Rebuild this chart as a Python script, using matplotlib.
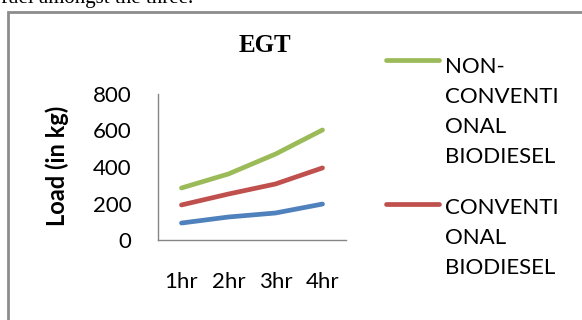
import matplotlib
matplotlib.use("Agg")
import matplotlib.pyplot as plt
from matplotlib.lines import Line2D
from matplotlib.patches import Rectangle

categories = ["1hr", "2hr", "3hr", "4hr"]
series_names = ["NON-\nCONVENTI\nONAL\nBIODIESEL", "CONVENTI\nONAL\nBIODIESEL", "DIESEL"]
non_conventional = [285, 362, 471, 603]
conventional = [192, 252, 307, 395]
diesel = [93, 126, 148, 197]
colors = ["#9BBB59", "#C0504D", "#4F81BD"]

W, H = 582, 320
fig = plt.figure(figsize=(W / 100, H / 100), dpi=100)
fig.patch.set_facecolor("white")

def fx(px):
    return px / W

def fy(py):
    return 1 - py / H

# outer chart border (extends beyond the crop)
fig.add_artist(Rectangle((fx(7.5), fy(400)), fx(700), fy(11.5) - fy(400),
                         transform=fig.transFigure, fill=False,
                         edgecolor="#8c8c8c", linewidth=2.0))

# cropped text line above the chart
fig.text(fx(1), fy(3), "fuel amongst the three.", family="Liberation Serif",
         fontsize=15, va="baseline", ha="left", color="black")

ax = fig.add_axes([fx(158), fy(240), fx(346) - fx(158), fy(94) - fy(240)])
x = list(range(len(categories)))
for vals, c in zip([non_conventional, conventional, diesel], colors):
    ax.plot(x, vals, color=c, linewidth=3.4, solid_capstyle="round",
            solid_joinstyle="round")

ax.set_xlim(-0.5, 3.5)
ax.set_ylim(0, 800)
ax.set_yticks([0, 200, 400, 600, 800])
ax.set_xticks(x)
ax.set_xticklabels(categories)
for s in ["top", "right"]:
    ax.spines[s].set_visible(False)
for s in ["left", "bottom"]:
    ax.spines[s].set_color("#868686")
    ax.spines[s].set_linewidth(1.0)
ax.tick_params(axis="both", length=0, labelsize=16)
ax.tick_params(axis="y", pad=19)
ax.tick_params(axis="x", pad=23)
for lab in ax.get_xticklabels() + ax.get_yticklabels():
    lab.set_family("Lato")

fig.text(fx(57), fy(166), "Load (in kg)", family="Lato", fontweight="bold",
         fontsize=17, ha="center", va="center", rotation=90)

fig.text(fx(265), fy(45), "EGT", family="Liberation Serif", fontweight="bold",
         fontsize=18, ha="center", va="center")

# legend (only the two visible entries in the crop)
legend_entries = [(60, 73, 0), (204, 214, 1)]
for yline, ybase, i in legend_entries:
    fig.add_artist(Line2D([fx(386), fx(439)], [fy(yline), fy(yline)],
                          transform=fig.transFigure, color=colors[i],
                          linewidth=3.4, solid_capstyle="round"))
    for k, part in enumerate(series_names[i].split("\n")):
        fig.text(fx(445), fy(ybase + 30 * k), part, family="Lato",
                 fontsize=16, ha="left", va="baseline")

fig.savefig("out.png", dpi=100)
